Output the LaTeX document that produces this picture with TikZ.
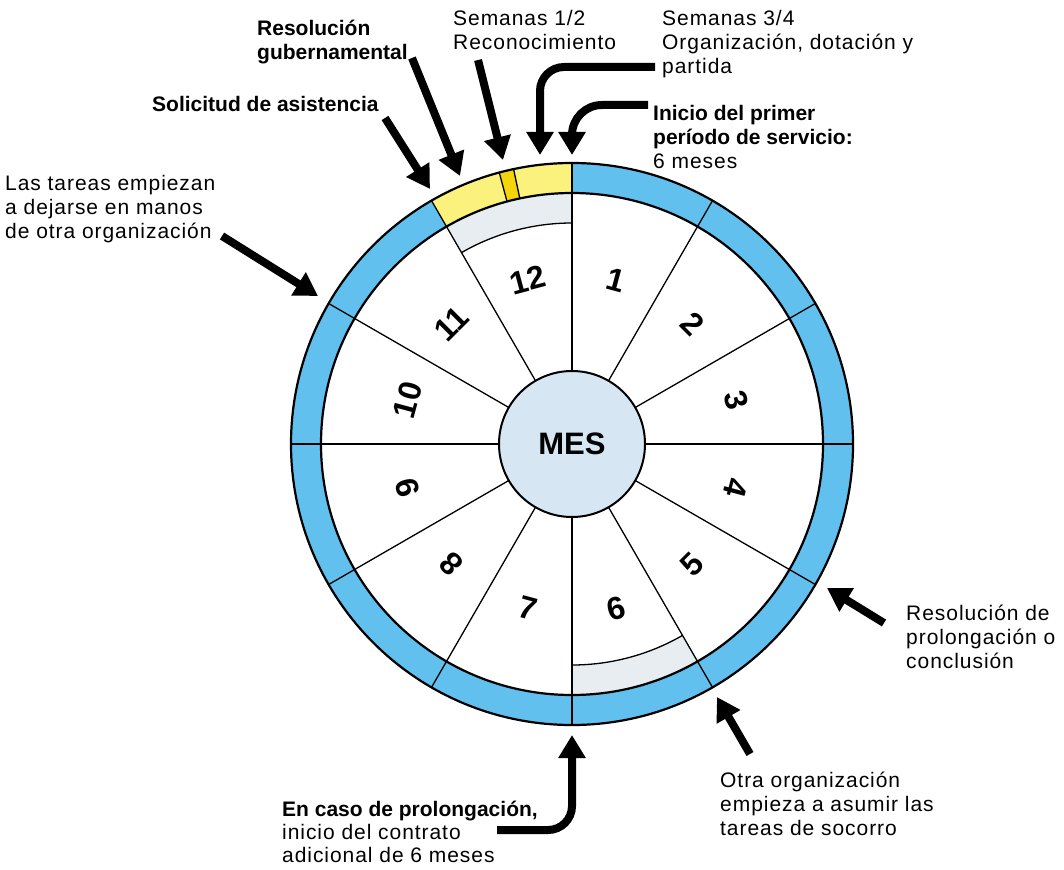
\documentclass[tikz,border=0pt]{standalone}
\usepackage{fontspec}
\setmainfont{Liberation Sans}
\newfontfamily\lblfont[LetterSpace=4.5]{Liberation Sans}
\usetikzlibrary{arrows.meta}
\definecolor{ringblue}{RGB}{98,192,238}
\definecolor{yel}{RGB}{250,242,125}
\definecolor{darkyel}{RGB}{244,212,10}
\definecolor{bandgray}{RGB}{231,237,241}
\definecolor{mesfill}{RGB}{214,230,242}
\newcommand\mylines[1]{\begin{tabular}[t]{@{}l@{}}#1\end{tabular}}
\begin{document}
\begin{tikzpicture}[x=1pt,y=-1pt,
  lbl/.style={anchor=base west, inner sep=0pt, font=\fontsize{21}{24}\lblfont},
  blbl/.style={anchor=base west, inner sep=0pt, font=\fontsize{21}{24}\selectfont\bfseries},
  pointer/.style={line width=8pt, -{Triangle[length=23pt,width=26pt]}},
  num/.style={font=\fontsize{32}{34}\selectfont\bfseries, inner sep=0pt},
  radial/.style={line width=1.3pt},
  rim/.style={line width=2.2pt}]
\useasboundingbox (0,0) rectangle (1064,869);

\begin{scope}[shift={(572,444)}, y=1pt]
  % ring
  \fill[ringblue] (0,0) circle[radius=281];
  \fill[white] (0,0) circle[radius=251];
  \fill[yel] (90:281) arc[start angle=90,end angle=120,radius=281] -- (120:251)
             arc[start angle=120,end angle=90,radius=251] -- cycle;
  \fill[darkyel] (102:281) arc[start angle=102,end angle=105,radius=281] -- (105:251)
             arc[start angle=105,end angle=102,radius=251] -- cycle;
  \draw[radial] (102:251) -- (102:281) (105:251) -- (105:281);
  % grey bands
  \fill[bandgray] (90:251) arc[start angle=90,end angle=120,radius=251] -- (120:221)
             arc[start angle=120,end angle=90,radius=221] -- cycle;
  \fill[bandgray] (270:251) arc[start angle=270,end angle=300,radius=251] -- (300:221)
             arc[start angle=300,end angle=270,radius=221] -- cycle;
  \draw[radial] (90:221) arc[start angle=90,end angle=120,radius=221];
  \draw[radial] (270:221) arc[start angle=270,end angle=300,radius=221];
  % radial lines
  \foreach \a in {0,30,...,330} \draw[radial] (\a:73) -- (\a:281);
  \draw[rim] (0,0) circle[radius=281];
  \draw[rim] (0,0) circle[radius=251];
  % centre
  \node[circle, draw, line width=2pt, fill=mesfill, minimum size=146pt,
        font=\fontsize{31}{33}\selectfont\bfseries] (mes) at (0,0) {MES};
  % months
  \node[num, rotate=-15]  (m1)  at (75:170)  {1};
  \node[num, rotate=-45]  (m2)  at (45:170)  {2};
  \node[num, rotate=-75]  (m3)  at (15:170)  {3};
  \node[num, rotate=-105] (m4)  at (-15:170) {4};
  \node[num, rotate=45]   (m5)  at (-45:170) {5};
  \node[num, rotate=15]   (m6)  at (-75:170) {6};
  \node[num, rotate=-15]  (m7)  at (255:170) {7};
  \node[num, rotate=135]  (m8)  at (225:170) {8};
  \node[num, rotate=105]  (m9)  at (195:170) {9};
  \node[num, rotate=75]   (m10) at (165:170) {10};
  \node[num, rotate=45]   (m11) at (135:170) {11};
  \node[num, rotate=15]   (m12) at (105:170) {12};
\end{scope}

% labels
\node[blbl] (resgub) at (257,36) {\mylines{Resolución\\gubernamental}};
\node[blbl] (solic) at (152,112) {Solicitud de asistencia};
\node[lbl] (tareas) at (5,190) {\mylines{Las tareas empiezan\\a dejarse en manos\\de otra organización}};
\node[lbl] (sem12) at (453,26) {\mylines{Semanas 1/2\\Reconocimiento}};
\node[lbl] (sem34) at (662,26) {\mylines{Semanas 3/4\\Organización, dotación y\\partida}};
\node[blbl] (inicio) at (653,121) {\mylines{Inicio del primer\\período de servicio:\\\lblfont\mdseries 6 meses}};
\node[lbl] (resprol) at (906,620) {\mylines{Resolución de\\prolongación o\\conclusión}};
\node[lbl] (otra) at (720,787) {\mylines{Otra organización\\empieza a asumir las\\tareas de socorro}};
\node[anchor=base west, inner sep=0pt, font=\fontsize{21}{23}\selectfont\bfseries] (caso) at (282,816)
  {\mylines{En caso de prolongación,\\\lblfont\mdseries inicio del contrato\\\lblfont\mdseries adicional de 6 meses}};

% arrow end points
\coordinate (aSolT) at (385,118);  \coordinate (aSolH) at (430,189);
\coordinate (aGubT) at (412,58);   \coordinate (aGubH) at (460,176);
\coordinate (aS12T) at (478,60);   \coordinate (aS12H) at (503,160);
\coordinate (aS34T) at (655,67);   \coordinate (aS34H) at (540,155);
\coordinate (aIniT) at (648,105);  \coordinate (aIniH) at (572,155);
\coordinate (aTarT) at (222,236);  \coordinate (aTarH) at (318,296);
\coordinate (aResT) at (884,623);  \coordinate (aResH) at (827,588);
\coordinate (aOtrT) at (750,754);  \coordinate (aOtrH) at (717,697);
\coordinate (aCasT) at (497,830);  \coordinate (aCasH) at (572,735);

\draw[pointer] (aSolT) -- (aSolH);
\draw[pointer] (aGubT) -- (aGubH);
\draw[pointer] (aS12T) -- (aS12H);
\draw[pointer, rounded corners=24pt] (aS34T) -| (aS34H);
\draw[pointer, rounded corners=30pt] (aIniT) -| (aIniH);
\draw[pointer] (aTarT) -- (aTarH);
\draw[pointer] (aResT) -- (aResH);
\draw[pointer] (aOtrT) -- (aOtrH);
\draw[pointer, rounded corners=24pt] (aCasT) -| (aCasH);
\end{tikzpicture}
\end{document}
